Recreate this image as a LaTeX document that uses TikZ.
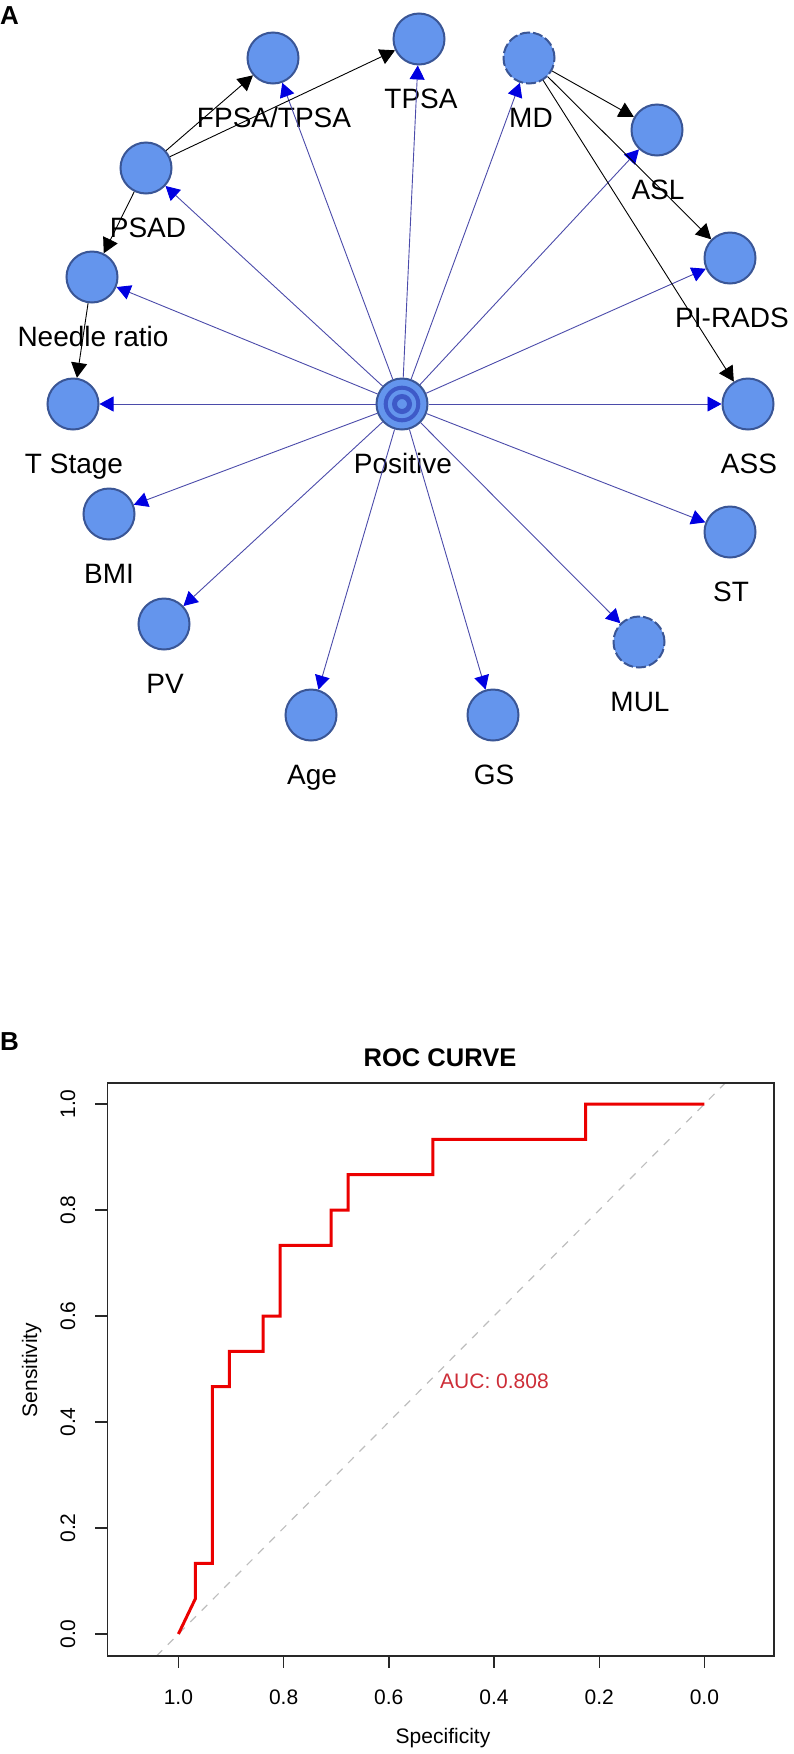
\documentclass[tikz,border=0pt]{standalone}
\usepackage{fontspec}
\setmainfont{Liberation Sans}
\usetikzlibrary{arrows.meta}

\definecolor{nodefill}{RGB}{100,149,237}
\definecolor{nodeedge}{RGB}{58,86,150}
\definecolor{ringblue}{RGB}{62,90,200}
\definecolor{linkblue}{RGB}{75,75,170}
\definecolor{tipblue}{RGB}{0,0,225}
\definecolor{chancegrey}{RGB}{190,190,190}
\definecolor{aucred}{RGB}{205,45,55}
\definecolor{rocred}{RGB}{235,0,0}
\definecolor{framegrey}{RGB}{40,40,40}

\begin{document}
\begin{tikzpicture}[x=1pt,y=-1pt,
    var/.style={circle,draw=nodeedge,fill=nodefill,line width=2pt,minimum size=51pt,inner sep=0pt},
    latent/.style={var,dash pattern=on 10pt off 3pt},
    lbl/.style={anchor=base,inner sep=0pt,font=\fontsize{28}{30}\selectfont},
    toblue/.style={draw=linkblue,line width=0.9pt,-{Triangle[length=14pt,width=15pt,color=tipblue]}},
    toblack/.style={draw=black,line width=0.9pt,-{Triangle[length=15pt,width=16pt]}},
    frame/.style={draw=framegrey,line width=1.4pt},
    chance/.style={draw=chancegrey,line width=1.2pt,dash pattern=on 8pt off 8pt},
    roccurve/.style={draw=rocred,line width=3pt,line join=miter},
    tick/.style={inner sep=0pt,font=\fontsize{21}{24}\selectfont},
    panel/.style={anchor=base west,inner sep=0pt,font=\fontsize{26}{28}\selectfont\bfseries}]
\useasboundingbox (0,0) rectangle (794,1754);

% network (panel A)
\node[panel] (pa) at (0,24) {A};
\node[var] (fpsa) at (273,58) {};
\node[var] (tpsa) at (419,39) {};
\node[latent] (md) at (529,58) {};
\node[var] (asl) at (657,130) {};
\node[var] (pirads) at (730,258) {};
\node[var] (ass) at (748,404) {};
\node[var] (st) at (730,532) {};
\node[latent] (mul) at (639,642) {};
\node[var] (gs) at (493,715) {};
\node[var] (age) at (311,715) {};
\node[var] (pv) at (164,624) {};
\node[var] (bmi) at (109,514) {};
\node[var] (tstage) at (73,404) {};
\node[var] (needle) at (92,277) {};
\node[var] (psad) at (146,168) {};
\node[var] (pos) at (402,404) {};
\draw[ringblue,line width=4pt] (pos.center) circle (16.3pt);
\draw[ringblue,line width=5pt] (pos.center) circle (7.5pt);

\node[lbl] (fpsa-l) at (274,127) {FPSA/TPSA};
\node[lbl] (tpsa-l) at (421,108) {TPSA};
\node[lbl] (md-l) at (531,127) {MD};
\node[lbl] (asl-l) at (658,199) {ASL};
\node[lbl] (pirads-l) at (732,327) {PI-RADS};
\node[lbl] (ass-l) at (749,473) {ASS};
\node[lbl] (st-l) at (731,601) {ST};
\node[lbl] (mul-l) at (640,711) {MUL};
\node[lbl] (gs-l) at (494,784) {GS};
\node[lbl] (age-l) at (312,784) {Age};
\node[lbl] (pv-l) at (165,693) {PV};
\node[lbl] (bmi-l) at (109,583) {BMI};
\node[lbl] (tstage-l) at (74,473) {T Stage};
\node[lbl] (needle-l) at (93,346) {Needle ratio};
\node[lbl] (psad-l) at (148,237) {PSAD};
\node[lbl] (pos-l) at (403,473) {Positive};

\draw[toblue] (pos) -- (fpsa);
\draw[toblue] (pos) -- (tpsa);
\draw[toblue] (pos) -- (md);
\draw[toblue] (pos) -- (asl);
\draw[toblue] (pos) -- (pirads);
\draw[toblue] (pos) -- (ass);
\draw[toblue] (pos) -- (st);
\draw[toblue] (pos) -- (mul);
\draw[toblue] (pos) -- (gs);
\draw[toblue] (pos) -- (age);
\draw[toblue] (pos) -- (pv);
\draw[toblue] (pos) -- (bmi);
\draw[toblue] (pos) -- (tstage);
\draw[toblue] (pos) -- (needle);
\draw[toblue] (pos) -- (psad);
\draw[toblack] (psad) -- (fpsa);
\draw[toblack] (psad) -- (tpsa);
\draw[toblack] (psad) -- (needle);
\draw[toblack] (needle) -- (tstage);
\draw[toblack] (md) -- (asl);
\draw[toblack] (md) -- (pirads);
\draw[toblack] (md) -- (ass);

% roc plot (panel B)
\node[panel] (pb) at (0,1050) {B};
\node[anchor=base,inner sep=0pt,font=\fontsize{25.5}{28}\selectfont\bfseries] (ttl) at (440,1066) {ROC CURVE};
\begin{scope}[shift={(704.4,1634)},x=-526pt,y=530pt]
    \draw[chance] (1.0415,-0.0415) -- (-0.0396,1.0396);
    \draw[frame] (1.135,-0.0415) rectangle (-0.132,1.0396);
    \foreach \s/\lab [count=\i] in {1/1.0,0.8/0.8,0.6/0.6,0.4/0.4,0.2/0.2,0/0.0} {
        \draw[frame] (\s,-0.0415) -- ++(0pt,-12pt);
        \node[tick,anchor=base] (xt\i) at ([yshift=-48.5pt]\s,-0.0415) {\lab};
    }
    \foreach \lab [count=\i] in {0.0,0.2,0.4,0.6,0.8,1.0} {
        \draw[frame] (1.135,\lab) -- ++(-12pt,0pt);
        \node[tick,rotate=90] (yt\i) at ([xshift=-39.5pt]1.135,\lab) {\lab};
    }
    \draw[roccurve] (1,0) -- (30/31,1/15) -- (30/31,2/15) -- (29/31,2/15) -- (29/31,7/15)
        -- (28/31,7/15) -- (28/31,8/15) -- (26/31,8/15) -- (26/31,9/15) -- (25/31,9/15)
        -- (25/31,11/15) -- (22/31,11/15) -- (22/31,12/15) -- (21/31,12/15) -- (21/31,13/15)
        -- (16/31,13/15) -- (16/31,14/15) -- (7/31,14/15) -- (7/31,1) -- (0,1);
\end{scope}
\node[tick,anchor=base,text=aucred] (auc) at (440,1388) [anchor=base west] {AUC: 0.808};
\node[tick,anchor=base] (xlab) at (443,1743) {Specificity};
\node[tick,anchor=base,rotate=90] (ylab) at (37,1370) {Sensitivity};
\end{tikzpicture}
\end{document}
